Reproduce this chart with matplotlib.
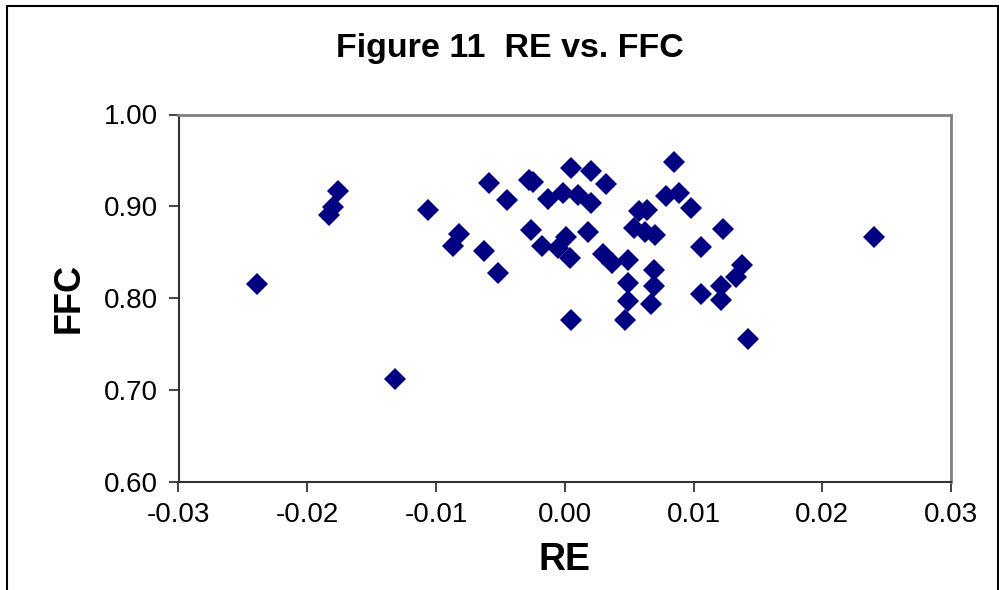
import numpy as np
import matplotlib
matplotlib.use("Agg")
import matplotlib.pyplot as plt
from matplotlib.patches import Rectangle

plt.rcParams['font.family'] = ['Liberation Sans', 'DejaVu Sans']

# Daten
re_vals = [-0.0239, -0.0176, -0.0180, -0.0183, -0.0106, -0.0082, -0.0087, -0.0132,
           -0.0059, -0.0045, -0.0063, -0.0052, -0.0028, -0.0025, -0.0013, -0.0001,
           0.0010, 0.0005, 0.0020, 0.0032, 0.0020, -0.0026, -0.0018, 0.0001,
           -0.0005, 0.0004, 0.0018, 0.0030, 0.0037, 0.0049, 0.0049, 0.0049,
           0.0047, 0.0005, 0.0069, 0.0069, 0.0067, 0.0058, 0.0064, 0.0054,
           0.0062, 0.0070, 0.0085, 0.0079, 0.0089, 0.0098, 0.0106, 0.0106,
           0.0123, 0.0138, 0.0133, 0.0121, 0.0121, 0.0142, 0.0240]
ffc_vals = [0.815, 0.917, 0.899, 0.891, 0.896, 0.870, 0.857, 0.712,
            0.925, 0.907, 0.851, 0.827, 0.929, 0.926, 0.908, 0.914,
            0.912, 0.942, 0.938, 0.924, 0.904, 0.874, 0.857, 0.867,
            0.854, 0.844, 0.872, 0.848, 0.838, 0.841, 0.816, 0.797,
            0.776, 0.776, 0.830, 0.813, 0.793, 0.895, 0.896, 0.876,
            0.872, 0.869, 0.948, 0.911, 0.914, 0.898, 0.856, 0.804,
            0.875, 0.836, 0.823, 0.813, 0.798, 0.755, 0.866]

x_ticks = [-0.03, -0.02, -0.01, 0.00, 0.01, 0.02, 0.03]
y_ticks = [0.60, 0.70, 0.80, 0.90, 1.00]

fig = plt.figure(figsize=(9.99, 5.90), dpi=100)
ax = fig.add_axes([178.5 / 999, (590 - 481.5) / 590, (951 - 178.5) / 999, (481.5 - 114.5) / 590])

ax.plot(re_vals, ffc_vals, 'D', color='#000080', markersize=11, markeredgewidth=0)

ax.set_xlim(-0.03, 0.03)
ax.set_ylim(0.60, 1.00)
ax.set_xticks(x_ticks)
ax.set_yticks(y_ticks)
ax.set_xticklabels([f'{v:.2f}' for v in x_ticks])
ax.set_yticklabels([f'{v:.2f}' for v in y_ticks])
ax.tick_params(direction='out', length=7, width=1.2, color='#222222', labelsize=20, pad=8)

# Rahmen wie in Excel
for s in ['top', 'right']:
    ax.spines[s].set_color('#808080')
    ax.spines[s].set_linewidth(2)
for s in ['left', 'bottom']:
    ax.spines[s].set_color('#333333')
    ax.spines[s].set_linewidth(1.5)

ax.set_xlabel('RE', fontsize=27, fontweight='bold', labelpad=10)
ax.set_ylabel('FFC', fontsize=26, fontweight='bold', labelpad=12)
fig.text(510 / 999, 1 - 49 / 590, 'Figure 11  RE vs. FFC', fontsize=24.5, fontweight='bold',
         ha='center', va='center')

# äußerer Rahmen
fig.patches.append(Rectangle((7 / 999, -0.05), (998 - 7) / 999, 1.05 - 6 / 590,
                             transform=fig.transFigure, fill=False, edgecolor='black',
                             linewidth=1.5, clip_on=False))

fig.savefig('out.png', dpi=100)
